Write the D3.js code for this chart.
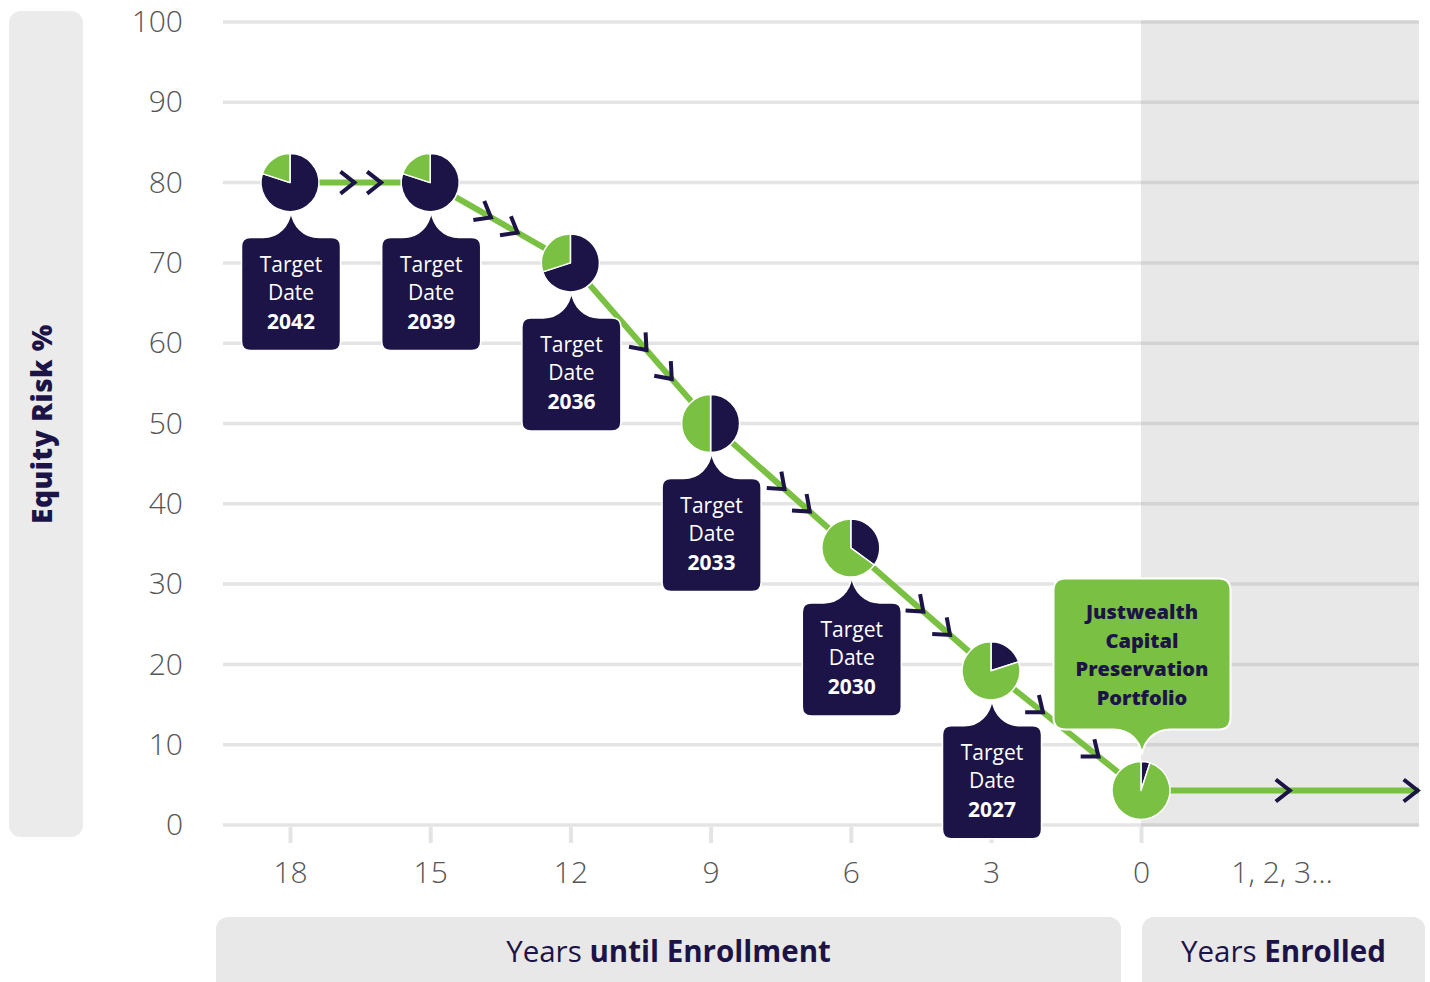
<!DOCTYPE html>
<html>
<head>
<meta charset="utf-8">
<script src="https://cdn.jsdelivr.net/npm/d3@7"></script>
<style>
  body { margin: 0; background: #fff; }
  svg { display: block; font-family: "Open Sans", Lato, sans-serif; }
</style>
</head>
<body>
<svg id="chart" width="1430" height="982"></svg>
<script>
// chart values
const targetDates = ['2042', '2039', '2036', '2033', '2030', '2027'];
const yearsUntil = [18, 15, 12, 9, 6, 3, 0];
const equityPct = [80, 80, 70, 50, 35, 20, 5];          // pie split (navy = equity)
const plotLevel = [80, 80, 70, 50, 34.5, 19.2, 4.3];     // where each pie sits on the y axis
const yTicks = [0, 10, 20, 30, 40, 50, 60, 70, 80, 90, 100];
const enrolledLabel = '1, 2, 3\u2026';
const portfolioLines = ['Justwealth', 'Capital', 'Preservation', 'Portfolio'];
// chevron positions along each segment (fraction of segment length)
const arrowAt = [[0.41, 0.6], [0.39, 0.58], [0.51, 0.69], [0.49, 0.67], [0.48, 0.67], [0.31, 0.68], [0.51, 0.97]];

const NAVY = '#1c1446';
const GREEN = '#7ac143';
const GRID = '#e4e4e4';
const FONT = '"Open Sans", Lato, sans-serif';

const svg = d3.select('#chart');

// scales: years until enrollment, then the enrolled stretch to the right
const x = d3.scaleLinear()
    .domain([18, 3, 0, -2])
    .range([290, 991, 1141, 1419]);
const y = d3.scaleLinear()
    .domain([0, 100])
    .range([825, 22]);

const gridLeft = 223;

// y title panel
svg.append('rect')
    .attr('x', 9).attr('y', 11)
    .attr('width', 74).attr('height', 826)
    .attr('rx', 12)
    .attr('fill', '#ebebeb');
svg.append('text')
    .attr('transform', 'translate(45,424) rotate(-90)')
    .attr('text-anchor', 'middle')
    .attr('dominant-baseline', 'middle')
    .attr('font-size', 28)
    .attr('font-weight', 800)
    .attr('letter-spacing', 0.5)
    .attr('fill', NAVY)
    .text('Equity Risk %');

// enrolled band
svg.append('rect')
    .attr('x', x(0)).attr('y', y(100))
    .attr('width', x(-2) - x(0))
    .attr('height', y(0) - y(100))
    .attr('fill', '#e8e8e8');

// gridlines
const grid = svg.append('g');
grid.selectAll('line.a')
    .data(yTicks)
    .join('line')
    .attr('class', 'a')
    .attr('x1', gridLeft).attr('x2', x(0))
    .attr('y1', d => y(d)).attr('y2', d => y(d))
    .attr('stroke', GRID).attr('stroke-width', 3.5);
grid.selectAll('line.b')
    .data(yTicks)
    .join('line')
    .attr('class', 'b')
    .attr('x1', x(0)).attr('x2', x(-2))
    .attr('y1', d => y(d)).attr('y2', d => y(d))
    .attr('stroke', '#d3d3d3').attr('stroke-width', 3.5);

// y axis labels
const yAxis = svg.append('g')
    .attr('transform', 'translate(183,0)')
    .call(d3.axisLeft(y).tickValues(yTicks).tickSize(0).tickPadding(0));
yAxis.select('.domain').remove();
yAxis.selectAll('text')
    .attr('font-family', FONT)
    .attr('font-size', 30)
    .attr('font-weight', 300)
    .attr('fill', '#555');

// x axis
const xAxis = svg.append('g')
    .attr('transform', `translate(0,${y(0) + 2})`)
    .call(d3.axisBottom(x).tickValues(yearsUntil).tickSize(16).tickPadding(19));
xAxis.select('.domain').remove();
xAxis.selectAll('line').attr('stroke', GRID).attr('stroke-width', 4);
xAxis.selectAll('text')
    .attr('font-family', FONT)
    .attr('font-size', 30)
    .attr('font-weight', 300)
    .attr('fill', '#555');
svg.append('text')
    .attr('x', x(-1) + 2).attr('y', 875)
    .attr('text-anchor', 'middle')
    .attr('dominant-baseline', 'middle')
    .attr('font-size', 30)
    .attr('font-weight', 300)
    .attr('fill', '#555')
    .text(enrolledLabel);

// bottom panels
const panels = [
    {x0: 216, x1: 1121, light: 'Years ', bold: 'until Enrollment'},
    {x0: 1142, x1: 1425, light: 'Years ', bold: 'Enrolled'}
];
panels.forEach(p => {
    svg.append('rect')
        .attr('x', p.x0).attr('y', 917)
        .attr('width', p.x1 - p.x0).attr('height', 90)
        .attr('rx', 12)
        .attr('fill', '#e8e8e8');
    const t = svg.append('text')
        .attr('x', (p.x0 + p.x1) / 2).attr('y', 954)
        .attr('text-anchor', 'middle')
        .attr('dominant-baseline', 'middle')
        .attr('font-size', 29.5)
        .attr('fill', NAVY);
    t.append('tspan').attr('font-weight', 400).text(p.light);
    t.append('tspan').attr('font-weight', 700).text(p.bold);
});

// glide path
const pts = yearsUntil.map((yr, i) => [x(yr), y(plotLevel[i])]);
pts.push([x(-2), y(plotLevel[plotLevel.length - 1])]);

svg.append('path')
    .datum(pts)
    .attr('d', d3.line())
    .attr('fill', 'none')
    .attr('stroke', GREEN)
    .attr('stroke-width', 6);

// chevrons
const chevrons = [];
arrowAt.forEach((fr, i) => {
    const a = pts[i], b = pts[i + 1];
    const ang = Math.atan2(b[1] - a[1], b[0] - a[0]) * 180 / Math.PI;
    fr.forEach(f => chevrons.push({
        cx: a[0] + (b[0] - a[0]) * f,
        cy: a[1] + (b[1] - a[1]) * f,
        ang
    }));
});
svg.append('g').selectAll('path')
    .data(chevrons)
    .join('path')
    .attr('transform', d => `translate(${d.cx},${d.cy}) rotate(${d.ang})`)
    .attr('d', 'M-7,-11 L7,0 L-7,11')
    .attr('fill', 'none')
    .attr('stroke', NAVY)
    .attr('stroke-width', 4)
    .attr('stroke-linejoin', 'miter');

// callout shape: rounded box with a curved pointer on top (dir=1) or bottom (dir=-1)
function callout(cx, edge, w, h, r, pw, ph, dir) {
    const l = cx - w / 2, rt = cx + w / 2;
    if (dir === 1) {
        const t = edge, b = edge + h;
        return `M${l + r},${t} L${cx - pw},${t}
            C${cx - pw * 0.45},${t} ${cx - 2},${t - ph * 0.45} ${cx},${t - ph}
            C${cx + 2},${t - ph * 0.45} ${cx + pw * 0.45},${t} ${cx + pw},${t}
            L${rt - r},${t} Q${rt},${t} ${rt},${t + r} L${rt},${b - r} Q${rt},${b} ${rt - r},${b}
            L${l + r},${b} Q${l},${b} ${l},${b - r} L${l},${t + r} Q${l},${t} ${l + r},${t} Z`;
    }
    const b = edge, t = edge - h;
    return `M${l + r},${t} L${rt - r},${t} Q${rt},${t} ${rt},${t + r} L${rt},${b - r} Q${rt},${b} ${rt - r},${b}
        L${cx + pw},${b}
        C${cx + pw * 0.45},${b} ${cx + 2},${b + ph * 0.45} ${cx},${b + ph}
        C${cx - 2},${b + ph * 0.45} ${cx - pw * 0.45},${b} ${cx - pw},${b}
        L${l + r},${b} Q${l},${b} ${l},${b - r} L${l},${t + r} Q${l},${t} ${l + r},${t} Z`;
}

// target date labels
const labels = svg.append('g').selectAll('g')
    .data(targetDates)
    .join('g')
    .attr('transform', (d, i) => `translate(${pts[i][0] + 1},${pts[i][1] + 55})`);
labels.append('path')
    .attr('d', callout(0, 0, 99, 113, 9, 28, 26, 1))
    .attr('fill', NAVY)
    .attr('stroke', '#fff')
    .attr('stroke-width', 1.5);
labels.append('text')
    .attr('text-anchor', 'middle')
    .attr('dominant-baseline', 'middle')
    .attr('fill', '#fff')
    .attr('font-size', 21)
    .selectAll('tspan')
    .data(d => [['Target', 400], ['Date', 400], [d, 700]])
    .join('tspan')
    .attr('x', 0)
    .attr('y', (d, i) => 28 + i * 28.5)
    .attr('font-weight', d => d[1])
    .text(d => d[0]);

// capital preservation callout
const last = pts[yearsUntil.length - 1];
const jw = svg.append('g')
    .attr('transform', `translate(${last[0] + 1},${last[1] - 61})`);
jw.append('path')
    .attr('d', callout(0, 0, 177, 151, 12, 28, 25, -1))
    .attr('fill', GREEN)
    .attr('stroke', '#fff')
    .attr('stroke-width', 2);
jw.append('text')
    .attr('text-anchor', 'middle')
    .attr('dominant-baseline', 'middle')
    .attr('fill', NAVY)
    .attr('font-size', 20)
    .attr('font-weight', 800)
    .selectAll('tspan')
    .data(portfolioLines)
    .join('tspan')
    .attr('x', 0)
    .attr('y', (d, i) => -115 + i * 28.5)
    .text(d => d);

// pies
const pie = d3.pie().sort(null);
const arc = d3.arc().innerRadius(0).outerRadius(29);
const pies = svg.append('g').selectAll('g')
    .data(equityPct)
    .join('g')
    .attr('transform', (d, i) => `translate(${pts[i][0]},${pts[i][1]})`);
pies.selectAll('path')
    .data(d => pie([d, 100 - d]))
    .join('path')
    .attr('d', arc)
    .attr('fill', (d, i) => i === 0 ? NAVY : GREEN)
    .attr('stroke', '#fff')
    .attr('stroke-width', 1.5)
    .attr('stroke-linejoin', 'round');
</script>
</body>
</html>
